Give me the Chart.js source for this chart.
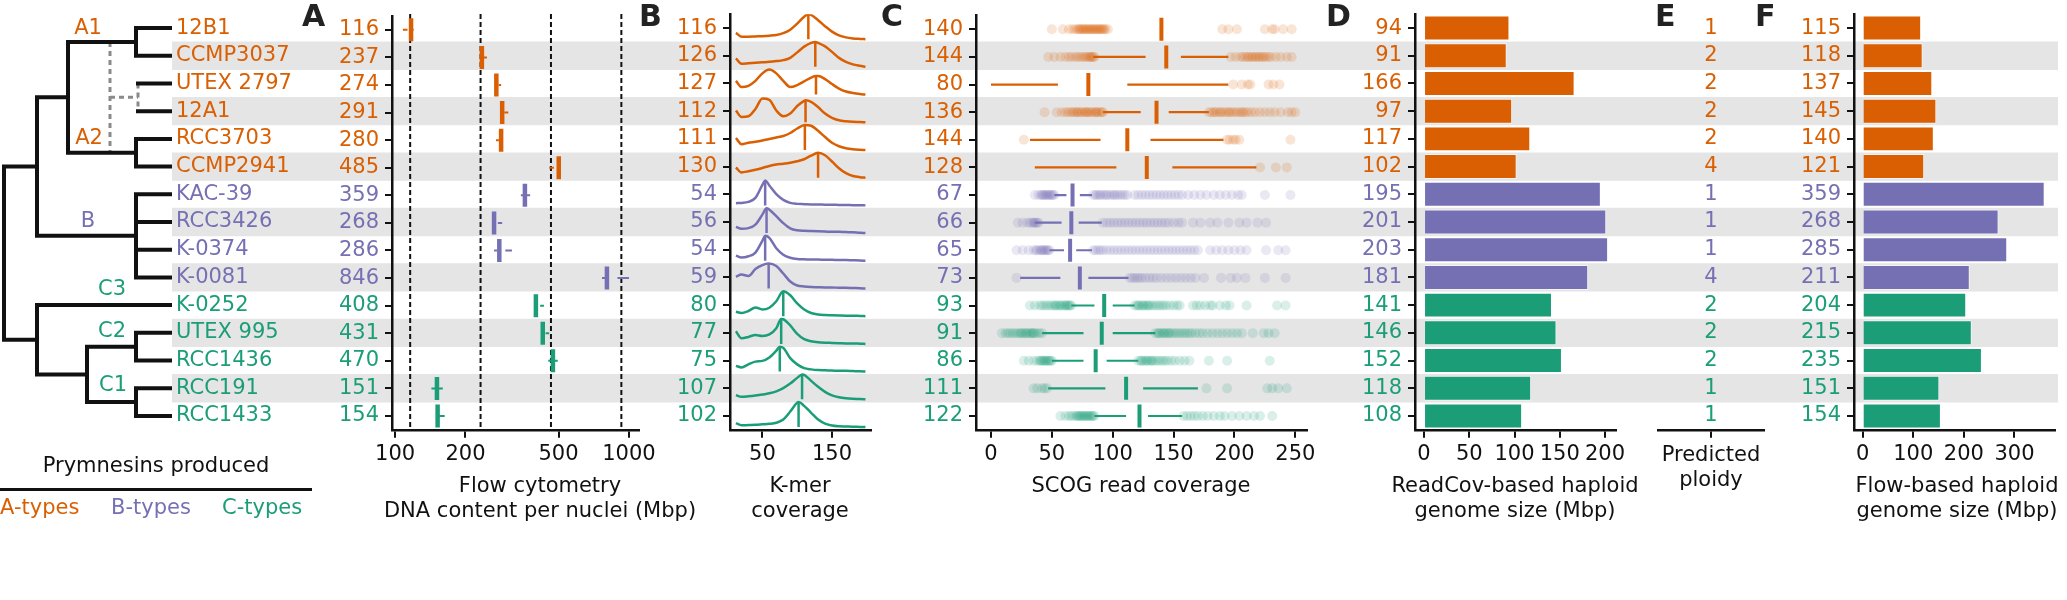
<!DOCTYPE html>
<html>
<head>
<meta charset="utf-8">
<title>Prymnesium genome size panels</title>
<script src="https://cdn.jsdelivr.net/npm/chart.js@4.4.1/dist/chart.umd.min.js"></script>
<style>
  body { margin: 0; background: #fff; }
  #fig { position: relative; width: 2067px; height: 600px; overflow: hidden; font-family: 'DejaVu Sans', sans-serif; color: #111; }
  #fig canvas { position: absolute; left: 0; top: 0; }
  .txt { position: absolute; font-size: 21px; line-height: 25px; white-space: nowrap; }
  .ttl { position: absolute; width: 400px; top: 473px; text-align: center; font-size: 21px; line-height: 25px; white-space: nowrap; }
  .panel { position: absolute; top: 1px; font-size: 30px; line-height: 30px; font-weight: bold; color: #222; }
</style>
</head>
<body>
<div id="fig">
  <div id="plots"></div>
  <div class="panel" style="left:302px">A</div>
  <div class="panel" style="left:639px">B</div>
  <div class="panel" style="left:881px">C</div>
  <div class="panel" style="left:1326px">D</div>
  <div class="panel" style="left:1655px">E</div>
  <div class="panel" style="left:1755px">F</div>

  <div class="ttl" style="left:340px">Flow cytometry<br>DNA content per nuclei (Mbp)</div>
  <div class="ttl" style="left:600px">K-mer<br>coverage</div>
  <div class="ttl" style="left:941px">SCOG read coverage</div>
  <div class="ttl" style="left:1315px">ReadCov-based haploid<br>genome size (Mbp)</div>
  <div class="ttl" style="left:1511px;top:442px">Predicted<br>ploidy</div>
  <div class="ttl" style="left:1757px">Flow-based haploid<br>genome size (Mbp)</div>

  <div class="txt" style="left:0;width:312px;text-align:center;top:453px">Prymnesins produced</div>
  <div style="position:absolute;left:0;top:488px;width:312px;height:2.5px;background:#111"></div>
  <div class="txt" style="left:0;top:495px;color:#D95F02">A-types</div>
  <div class="txt" style="left:111px;top:495px;color:#7570B3">B-types</div>
  <div class="txt" style="left:222px;top:495px;color:#1B9E77">C-types</div>
</div>
<script>
// ==========================
// DATA
// ==========================
const strains = ['12B1','CCMP3037','UTEX 2797','12A1','RCC3703','CCMP2941','KAC-39','RCC3426','K-0374','K-0081','K-0252','UTEX 995','RCC1436','RCC191','RCC1433'];
const types = ['A','A','A','A','A','A','B','B','B','B','C','C','C','C','C'];
const typeColors = {A:'#D95F02', B:'#7570B3', C:'#1B9E77'};

// tree: branch depths, leaves by strain name
const treeTip = 170;
const tree = {d:4, kids:[
  {d:37, kids:[
    {d:68, kids:[
      {name:'A1', d:136, kids:['12B1','CCMP3037']},
      {name:'A2', d:136, kids:['RCC3703','CCMP2941']}
    ]},
    {name:'B', d:136, kids:['KAC-39','RCC3426','K-0374','K-0081']}
  ]},
  {d:37, kids:[
    'K-0252',
    {d:87, kids:[
      {name:'C2', d:136, kids:['UTEX 995','RCC1436']},
      {name:'C1', d:136, kids:['RCC191','RCC1433']}
    ]}
  ]}
]};
const floatClade = {d:138, from:110, kids:['UTEX 2797','12A1'], between:['A1','A2']};
const cladeLabels = ['A1','A2','B','C3','C2','C1'];
const cladeLabelType = ['A','A','B','C','C','C'];
const cladeLabelX = [88, 89, 88, 112, 112, 113];
const cladeLabelRow = [1.0, 5.0, 7.97, 10.43, 11.95, 13.92];

// A: flow cytometry (log scale)
const flowLabel = [116,237,274,291,280,485,359,268,286,846,408,431,470,151,154];
const flowMed   = [117,235,271,287,284,501,359,265,279,805,400,428,473,151,152];
const flowWhisk = [ // min, q1, q3, max
  [108,113,118,120],[235,235,240,247],[271,271,277,284],[287,287,293,305],[270,278,284,284],
  [456,478,501,501],[345,359,359,378],[262,264,275,287],[265,273,296,316],[767,790,893,1000],
  [400,400,417,433],[428,428,440,456],[452,473,473,496],[143,151,151,160],[150,152,152,163]
];
const flowRefLines = [116, 232, 464, 928];
const flowTicks = [100, 200, 500, 1000];

// B: k-mer coverage spectra
const kmerPeak = [116,126,127,112,111,130,54,56,54,59,80,77,75,107,102];
const kmerPeakDens = [1,1,0.74,0.88,1,1,1,1,1,1,1,1,1,1,1];
const kmerCov = [12,20,30,40,50,60,70,80,90,100,110,120,130,140,150,160,170,180,190,198];
const kmerDens = [
  [.25,.10,.10,.11,.12,.14,.17,.24,.38,.62,.90,.97,.76,.52,.30,.15,.07,.03,.01,0],
  [.34,.12,.14,.16,.18,.20,.23,.27,.36,.58,.81,.96,.96,.82,.60,.36,.20,.10,.04,0],
  [.55,.30,.35,.55,.85,1.0,.85,.55,.30,.38,.53,.68,.74,.62,.42,.24,.12,.06,.02,0],
  [.47,.21,.24,.53,.95,.90,.47,.24,.35,.65,.86,.82,.61,.35,.18,.08,.04,.02,.01,0],
  [.48,.23,.29,.33,.38,.44,.50,.56,.68,.86,.99,.97,.77,.52,.29,.15,.07,.03,.01,0],
  [.41,.21,.26,.32,.39,.47,.53,.56,.60,.66,.74,.88,1.0,.90,.65,.38,.18,.07,.02,0],
  [.09,.10,.14,.30,.82,.80,.45,.22,.10,.06,.05,.04,.04,.03,.03,.02,.02,.01,.01,0],
  [.25,.17,.20,.34,.74,.94,.68,.40,.19,.11,.09,.08,.07,.06,.05,.05,.04,.03,.01,0],
  [.21,.13,.18,.33,.80,.92,.50,.24,.12,.07,.06,.05,.05,.04,.04,.03,.03,.02,.01,0],
  [.47,.56,.50,.78,.94,.98,.90,.60,.28,.12,.08,.06,.05,.04,.04,.03,.03,.02,.01,0],
  [.18,.13,.21,.35,.27,.34,.60,1.0,.84,.51,.27,.13,.07,.05,.04,.03,.02,.02,.01,0],
  [.51,.23,.28,.36,.32,.38,.63,.99,.74,.40,.19,.11,.07,.05,.04,.03,.02,.02,.01,0],
  [.23,.17,.29,.40,.43,.57,.84,.95,.54,.29,.14,.09,.06,.05,.04,.03,.03,.02,.01,0],
  [.17,.10,.12,.15,.19,.24,.32,.45,.63,.86,.98,.74,.50,.30,.16,.08,.04,.02,.01,0],
  [.16,.07,.08,.09,.11,.13,.17,.30,.62,.98,.85,.57,.30,.14,.06,.03,.02,.01,.005,0]
];
const kmerTicks = [50, 150];

// C: SCOG read coverage
const scogLabel = [140,144,80,136,144,128,67,66,65,73,93,91,86,111,122];
const scogMed   = [140,144,80,136,112,128,67,66,65,73,93,91,86,111,122];
const scogLines = [ // left whisker, right whisker
  [],[84,127,156,195],[0,55,112,195],[92,123,146,179],[32,90,131,191],
  [36,103,149,218],[52,62,73,83],[36,58,72,91],[48,60,70,83],[24,57,80,113],
  [66,85,100,118],[42,76,100,135],[50,76,95,121],[47,94,125,170],[85,111,129,157]
];
const scogOut = [
  [50,59,64,67,69,71,72,73,74,75,76,77,78,79,80,81,82,83,84,85,86,87,88,89,90,91,92,93,94,96,190,195,202,225,231,233,240,247],
  [47,52,57,61,64,66,69,71,73,75,77,78,80,81,82,83,84,85,197,201,205,207,209,211,212,214,215,217,218,220,221,223,224,226,228,230,234,238,243,247],
  [199,206,211,213,228,232,237],
  [44,54,58,61,63,65,67,68,70,71,72,74,75,77,78,79,80,82,83,85,86,87,88,90,91,92,179,181,183,184,186,188,189,191,193,195,196,198,200,202,204,206,207,209,211,214,217,221,225,229,233,238,244,247,250],
  [27,194,196,199,201,204,246],
  [221,234,243],
  [36,39,41,42,43,44,45,46,47,48,49,50,51,52,84,86,87,89,90,92,94,95,97,99,101,102,104,106,108,110,112,118,121,124,127,130,133,136,139,142,145,148,151,154,157,162,167,172,177,183,188,193,198,203,206,225,246],
  [22,26,30,32,34,35,36,37,38,39,92,95,98,101,104,107,110,113,116,119,122,125,128,131,134,137,140,143,146,150,154,157,166,172,180,186,195,204,210,219,226],
  [21,26,31,35,37,38,40,41,42,43,44,45,46,47,48,84,86,88,90,92,95,98,101,104,107,110,113,116,119,122,125,128,131,134,137,140,143,146,149,152,155,158,161,164,167,170,180,185,190,195,200,205,210,226,236,242],
  [21,114,116,118,120,122,124,127,130,133,136,140,144,148,152,156,160,164,168,175,189,197,202,209,225,242],
  [32,36,40,42,44,46,48,50,52,53,54,56,57,58,60,61,62,63,64,65,66,118,120,121,122,124,125,126,128,129,130,132,134,136,138,140,142,144,147,150,153,155,166,169,172,176,180,182,188,193,196,210,235,242],
  [9,12,14,16,18,20,22,24,25,26,28,29,30,32,33,34,35,36,38,40,42,135,137,138,139,141,142,143,145,146,147,149,151,153,155,157,159,161,163,165,168,171,174,178,182,186,190,194,198,202,206,215,224,228,233],
  [27,31,35,38,40,41,42,43,44,45,46,47,48,49,50,121,123,124,125,127,128,129,131,132,133,135,137,139,141,143,145,148,151,155,159,163,179,194,229],
  [35,38,42,44,46,177,194,227,231,236,243],
  [57,61,64,66,68,70,71,72,73,74,75,76,77,78,79,80,81,82,83,84,85,158,161,164,167,170,174,178,183,188,192,198,204,210,216,221,231]
];
const scogTicks = [0, 50, 100, 150, 200, 250];

// D, E, F
const readCov = [94,91,166,97,117,102,195,201,203,181,141,146,152,118,108];
const readCovTicks = [0, 50, 100, 150, 200];
const ploidy = [1,2,2,2,2,4,1,1,1,4,2,2,2,1,1];
const flowHap = [115,118,137,145,140,121,359,268,285,211,204,215,235,151,154];
const flowHapTicks = [0, 100, 200, 300];

// ==========================
// LAYOUT CONSTANTS
// ==========================
const W = 2067, H = 600, TOP = 14.2, BOTTOM = 429.8, YW = 70;
const N = strains.length;
const rowIds = strains.map((_, i) => i + 1);
const rowColors = types.map(t => typeColors[t]);
const BAND = '#e5e5e5';
const RIDGE_BASE = 0.4, RIDGE_H = 0.9;

Chart.defaults.font.family = "'DejaVu Sans', sans-serif";
Chart.defaults.font.size = 21;
Chart.defaults.color = '#111';
Chart.defaults.elements.point.radius = 0;

function rgba(hex, a){
  const n = parseInt(hex.slice(1), 16);
  return `rgba(${n >> 16},${(n >> 8) & 255},${n & 255},${a})`;
}

function canvas(){
  const c = document.createElement('canvas');
  c.width = W; c.height = H;
  document.getElementById('plots').appendChild(c);
  return c;
}

// draws dataset.texts at each point (ploidy numbers, clade names)
const pointText = {
  id: 'pointText',
  afterDatasetsDraw(chart){
    const ctx = chart.ctx;
    chart.data.datasets.forEach((ds, i) => {
      if (!ds.texts) return;
      ctx.save();
      ctx.font = "21px 'DejaVu Sans', sans-serif";
      ctx.textAlign = 'center';
      ctx.textBaseline = 'middle';
      chart.getDatasetMeta(i).data.forEach((pt, j) => {
        ctx.fillStyle = ds.textColors[j];
        ctx.fillText(ds.texts[j], pt.x, pt.y);
      });
      ctx.restore();
    });
  }
};

function rowAxis(texts, o = {}){
  return {
    type: 'linear', reverse: true, min: 0.5, max: N + 0.5, offset: false,
    position: o.position || 'left',
    afterBuildTicks: s => { s.ticks = rowIds.map(v => ({value: v})); },
    afterFit: s => { s.width = o.width || YW; s.paddingTop = 0; s.paddingBottom = 0; },
    ticks: {autoSkip: false, padding: o.pad ?? 6,
      color: c => rowColors[c.index], callback: (v, i) => texts[i]},
    grid: {display: !o.bare, offset: false, drawOnChartArea: false, drawTicks: !o.bare, tickLength: 7, lineWidth: 2, color: '#111'},
    border: {display: !o.bare, width: 2.5, color: '#111'}
  };
}
const rowHidden = () => ({type: 'linear', reverse: true, min: 0.5, max: N + 0.5, offset: false, display: false});

function valueAxis(type, min, max, ticks, labels = true){
  return {
    type, min, max, offset: false,
    afterBuildTicks: s => { s.ticks = ticks.map(v => ({value: v})); },
    afterFit: s => { s.height = H - BOTTOM; s.paddingLeft = 0; s.paddingRight = 0; },
    ticks: {autoSkip: false, maxRotation: 0, minRotation: 0, padding: 4,
      callback: v => labels ? String(v) : ''},
    grid: {drawOnChartArea: false, tickLength: 8, lineWidth: 2, color: '#111'},
    border: {display: true, width: 2.5, color: '#111'}
  };
}

function opts(padding, scales, extra = {}){
  return Object.assign({
    responsive: false, animation: false, events: [],
    layout: {padding},
    plugins: {legend: {display: false}, tooltip: {enabled: false}},
    scales
  }, extra);
}

// segment list -> line points broken by gaps
function segData(segs){
  return segs.flatMap(([a, b]) => [{x: a[0], y: a[1]}, {x: b[0], y: b[1]}, {x: null, y: null}]);
}

// ==========================
// BACKGROUND BANDS
// ==========================
new Chart(canvas(), {
  type: 'bar',
  data: {datasets: [{
    data: rowIds.filter(r => r % 2 === 0).map(r => ({x: 1, y: r})),
    backgroundColor: BAND, barThickness: (BOTTOM - TOP) / N
  }]},
  options: opts({left: 172, right: 9, top: TOP, bottom: H - BOTTOM},
    {x: {type: 'linear', min: 0, max: 1, display: false}, y: rowHidden()}, {indexAxis: 'y'})
});

// ==========================
// TREE
// ==========================
const nodeRow = {};
function place(node, segs){
  if (typeof node === 'string') return {row: strains.indexOf(node) + 1, d: treeTip};
  const kids = node.kids.map(k => place(k, segs));
  const rs = kids.map(k => k.row);
  const lo = Math.min(...rs), hi = Math.max(...rs);
  segs.push([[node.d, lo], [node.d, hi]]);
  kids.forEach(k => segs.push([[node.d, k.row], [k.d, k.row]]));
  const row = (lo + hi) / 2;
  if (node.name) nodeRow[node.name] = row;
  return {row, d: node.d};
}
const solidSegs = [];
place(tree, solidSegs);
const fRows = floatClade.kids.map(k => strains.indexOf(k) + 1);
fRows.forEach(r => solidSegs.push([[floatClade.d, r], [treeTip, r]]));
const fMid = (fRows[0] + fRows[1]) / 2;
const dashSegs = [
  [[floatClade.d, fRows[0]], [floatClade.d, fRows[1]]],
  [[floatClade.from, fMid], [floatClade.d, fMid]],
  [[floatClade.from, nodeRow[floatClade.between[0]]], [floatClade.from, nodeRow[floatClade.between[1]]]]
];

new Chart(canvas(), {
  type: 'line',
  data: {datasets: [
    {data: segData(solidSegs), borderColor: '#111', borderWidth: 4, borderCapStyle: 'square'},
    {data: segData(dashSegs), borderColor: '#8a8a8a', borderWidth: 3, borderDash: [5, 4]},
    {data: cladeLabelX.map((x, k) => ({x, y: cladeLabelRow[k]})), showLine: false,
      texts: cladeLabels, textColors: cladeLabelType.map(t => typeColors[t])}
  ]},
  options: opts({left: 0, right: W - 172 - 160, top: TOP, bottom: H - BOTTOM}, {
    x: {type: 'linear', min: 0, max: 172, display: false},
    y: rowAxis(strains, {position: 'right', width: 160, pad: 4, bare: true})
  }),
  plugins: [pointText]
});

// ==========================
// A  FLOW CYTOMETRY
// ==========================
const flowDatasets = [{
  data: flowMed.map((v, i) => ({x: v, y: i + 1})), showLine: false,
  pointStyle: 'line', pointRotation: 90, pointRadius: 11.5, pointBorderWidth: 4.5,
  pointBorderColor: rowColors, pointBackgroundColor: rowColors
}];
Object.keys(typeColors).forEach(t => {
  const segs = [];
  flowWhisk.forEach((w, i) => {
    if (types[i] !== t) return;
    if (w[1] > w[0]) segs.push([[w[0], i + 1], [w[1], i + 1]]);
    if (w[3] > w[2]) segs.push([[w[2], i + 1], [w[3], i + 1]]);
  });
  flowDatasets.push({data: segData(segs), borderColor: typeColors[t], borderWidth: 2});
});
flowRefLines.forEach(v => flowDatasets.push({
  data: [{x: v, y: 0.43}, {x: v, y: N + 0.5}], borderColor: '#111', borderWidth: 2,
  borderDash: [5, 3], clip: false
}));
new Chart(canvas(), {
  type: 'line',
  data: {datasets: flowDatasets},
  options: opts({left: 392 - YW, right: W - 639, top: TOP, bottom: 0}, {
    x: valueAxis('logarithmic', 97, 1104, flowTicks),
    y: rowAxis(flowLabel)
  })
});

// ==========================
// B  K-MER SPECTRA
// ==========================
const kmerDatasets = [];
kmerDens.forEach((dens, i) => {
  const r = i + 1;
  const pts = kmerCov.map((c, j) => ({x: c, y: dens[j]}))
    .filter(p => Math.abs(p.x - kmerPeak[i]) > 1);
  pts.push({x: kmerPeak[i], y: kmerPeakDens[i]});
  pts.sort((a, b) => a.x - b.x);
  kmerDatasets.push({
    data: [{x: kmerPeak[i], y: r + RIDGE_BASE}, {x: kmerPeak[i], y: r + RIDGE_BASE - RIDGE_H * kmerPeakDens[i]}],
    borderColor: rowColors[i], borderWidth: 2.5
  });
  kmerDatasets.push({
    data: pts.map(p => ({x: p.x, y: r + RIDGE_BASE - RIDGE_H * p.y})),
    borderColor: rowColors[i], borderWidth: 2.5, cubicInterpolationMode: 'monotone'
  });
});
new Chart(canvas(), {
  type: 'line',
  data: {datasets: kmerDatasets},
  options: opts({left: 730 - YW, right: W - 871, top: TOP, bottom: 0}, {
    x: valueAxis('linear', 3.5, 206, kmerTicks),
    y: rowAxis(kmerPeak)
  })
});

// ==========================
// C  SCOG COVERAGE
// ==========================
const scogDatasets = [{
  data: scogMed.map((v, i) => ({x: v, y: i + 1})), showLine: false,
  pointStyle: 'line', pointRotation: 90, pointRadius: 11.5, pointBorderWidth: 4,
  pointBorderColor: rowColors, pointBackgroundColor: rowColors
}];
Object.keys(typeColors).forEach(t => {
  const segs = [];
  scogLines.forEach((w, i) => {
    if (types[i] !== t || !w.length) return;
    segs.push([[w[0], i + 1], [w[1], i + 1]], [[w[2], i + 1], [w[3], i + 1]]);
  });
  scogDatasets.push({data: segData(segs), borderColor: typeColors[t], borderWidth: 2.2});
});
scogOut.forEach((vals, i) => scogDatasets.push({
  data: vals.map(v => ({x: v, y: i + 1})), showLine: false,
  pointRadius: 5, pointBorderWidth: 0, pointBackgroundColor: rgba(rowColors[i], 0.16)
}));
new Chart(canvas(), {
  type: 'line',
  data: {datasets: scogDatasets},
  options: opts({left: 976 - YW, right: W - 1307, top: TOP, bottom: 0}, {
    x: valueAxis('linear', -12.3, 259.6, scogTicks),
    y: rowAxis(scogLabel)
  })
});

// ==========================
// D  READCOV HAPLOID SIZE
// ==========================
new Chart(canvas(), {
  type: 'bar',
  data: {datasets: [{
    data: readCov.map((v, i) => ({x: v, y: i + 1})),
    backgroundColor: rowColors, borderColor: 'rgba(255,255,255,0.55)', borderWidth: 1, barThickness: 24.3
  }]},
  options: opts({left: 1415 - YW, right: W - 1616, top: TOP, bottom: 0}, {
    x: valueAxis('linear', -10, 212.1, readCovTicks),
    y: rowAxis(readCov)
  }, {indexAxis: 'y'})
});

// ==========================
// E  PLOIDY
// ==========================
new Chart(canvas(), {
  type: 'line',
  data: {datasets: [{
    data: rowIds.map(r => ({x: 1, y: r})), showLine: false,
    texts: ploidy.map(String), textColors: rowColors
  }]},
  options: opts({left: 1658, right: W - 1764, top: TOP, bottom: 0}, {
    x: valueAxis('linear', 0, 2, [1], false),
    y: rowHidden()
  }),
  plugins: [pointText]
});

// ==========================
// F  FLOW HAPLOID SIZE
// ==========================
new Chart(canvas(), {
  type: 'bar',
  data: {datasets: [{
    data: flowHap.map((v, i) => ({x: v, y: i + 1})),
    backgroundColor: rowColors, borderColor: 'rgba(255,255,255,0.55)', borderWidth: 1, barThickness: 24.3
  }]},
  options: opts({left: 1854 - YW, right: W - 2055, top: TOP, bottom: 0}, {
    x: valueAxis('linear', -17, 380, flowHapTicks),
    y: rowAxis(flowHap)
  }, {indexAxis: 'y'})
});
</script>
</body>
</html>
